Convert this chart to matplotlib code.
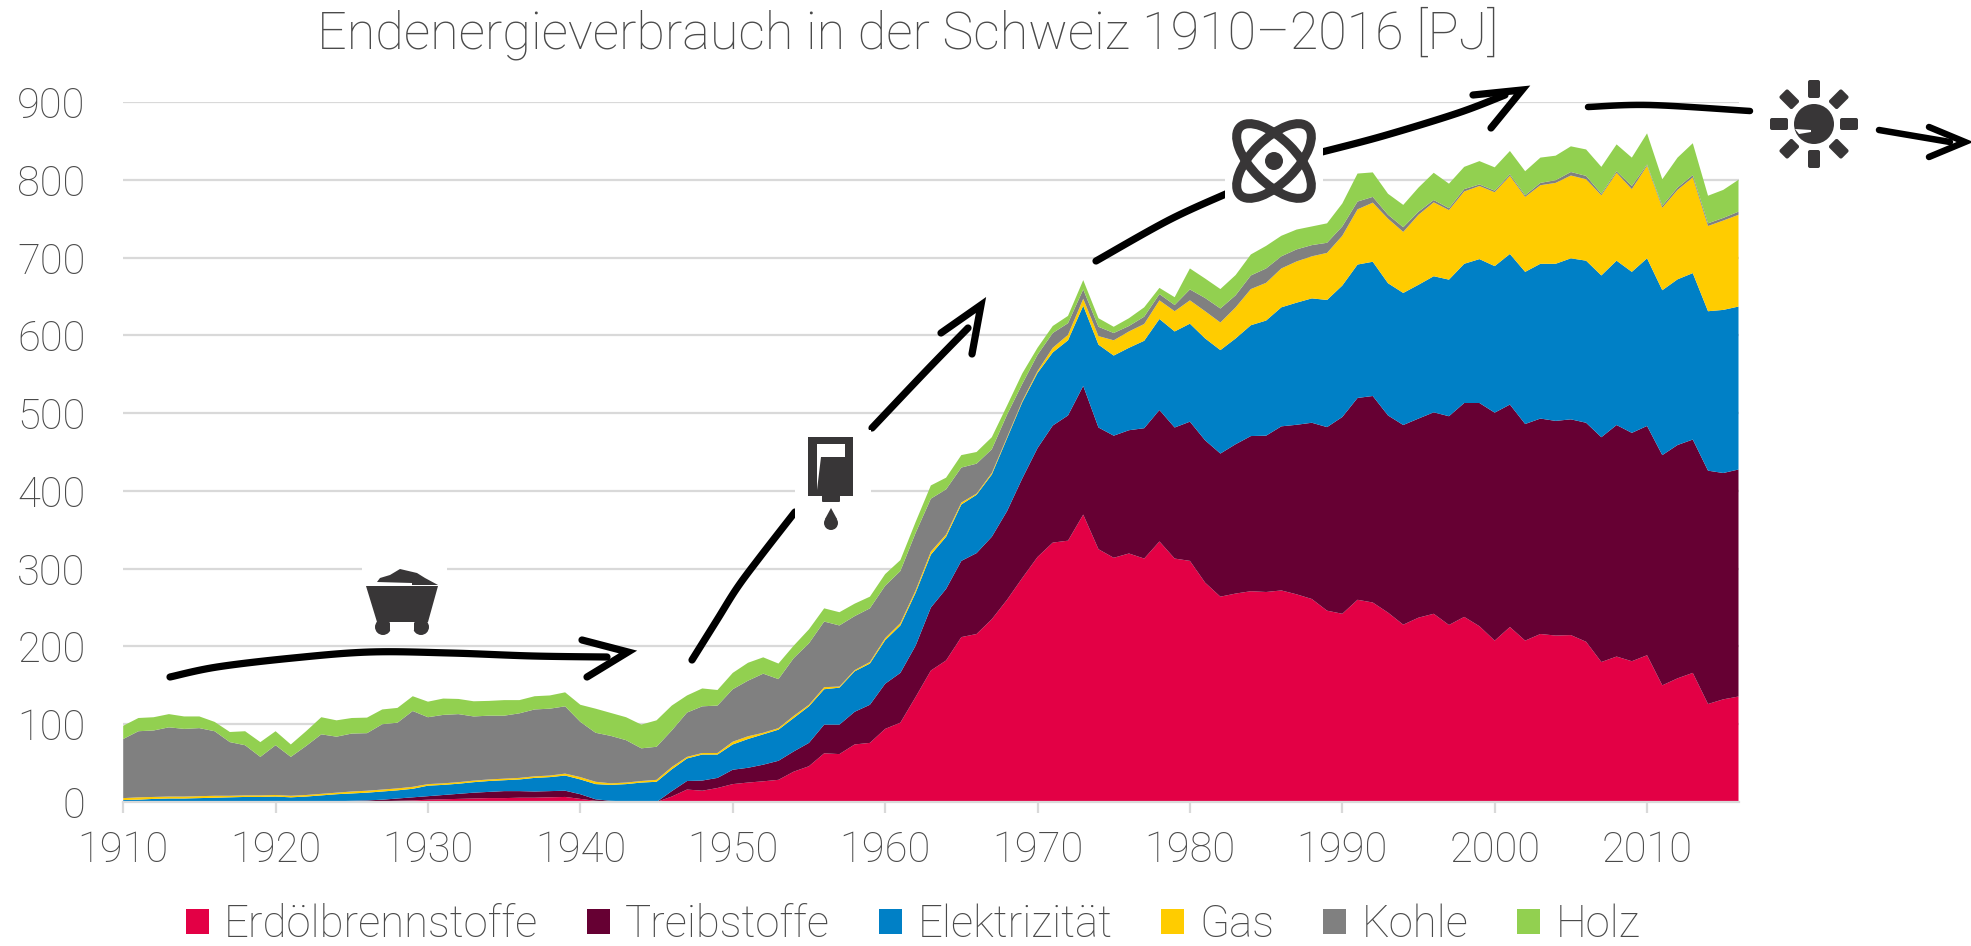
import numpy as np
import matplotlib
matplotlib.use("Agg")
import matplotlib.pyplot as plt
from matplotlib.patches import Polygon, Circle, Ellipse, Rectangle, FancyBboxPatch
from matplotlib.transforms import Affine2D
from matplotlib.patches import Patch

# ---- data: upper edge of each stacked band, PJ, 1910..2016
years = list(range(1910, 2017))
top_erdoel = [0,0,0,0,0,0,0,0,0,0,
 0,0,0,0,.3,.5,.8,1,1.5,2,
 3,3.5,4,4.5,5,5,5.5,5.5,6,6.5,
 4,1.5,.5,.2,0,0,7,16,14.5,18,
 23,25,26.6,28.5,39,46,62.6,61.6,74,76,
 94,102,135,169,182,212,216,235,260,288,
 315,333.5,336,369.5,325,314,319.5,313,335,313,
 310,282,264,268,271,270,272,267,261,246,
 242,260,256.5,243.5,228,237,242,227.6,238,226,
 207.5,225,207.5,216,214,214.6,206,180,187,181,
 188.7,150,159,166,126,132,135.6]
top_treib = [0,0,0,0,0,0,0,0,0,0,
 0,0,.3,.6,1,1.5,2,3,4.5,6,
 7.5,9,10.5,12,13,14,14,13.5,14,14.5,
 10,3.5,1.5,.8,.3,0,14,27,27.6,31,
 41.5,44,48,53,65,76,99.5,99.5,116,125,
 152,166,201,250,274,310,320,341,374,416,
 455,484,497,535,481.5,471,478,480.6,504,481.5,
 489,465,448,460,470.5,471,483,485,487.6,482,
 495,519.5,522,497,484.7,493,501,496,513,513,
 500.6,511,486,493,490,492,487.6,469,484.7,474.6,
 483.5,446,459,466,426,423,427.5]
top_elektro = [2.5,3,4,4.5,4.5,5,5.5,6,6.5,6.5,
 7,6,7,8.5,10,11,12,13.5,15,17,
 21,22,23.5,25.5,27,28,29,31,32,34,
 29,23,22,23,25,26,42,56,61,61,
 74,81,87,93,108,123,145,147,168,178,
 208,227,269,318,341,382.5,395,421,467.5,514,
 551.6,578,593.6,638,588,574,584,593,621,605,
 615,596,581,596,613,619,636,642,647.5,645.5,
 664,691,694.6,667,654.5,665,676,671.6,692,698,
 689,704.6,681.6,692,692,699,696,677,696,681.6,
 699,658,672,680,631,632.7,637]
top_gas = [5,6,6.5,7,7,7.5,8,8,8.5,8.5,
 9,8,9,10.5,12,13.5,14.5,16,17.5,19.5,
 23,24,25.5,27.5,29,30,31,33,34,36.5,
 32,26,24,25,27,28.5,45,58,63,63,
 77.5,84.5,89,95,110.7,125,147.6,148.5,169.5,180,
 210.6,230,272,322,344,385,396.5,423,469,515.6,
 554,584,600.6,647,599,593.6,605,614.6,645,631,
 645,631,616.5,636,659.5,667.5,686,695,701.6,706,
 728,762,770.6,750,733,755,771,761,785,792,
 784,805,778,793,796,805.5,800.7,780,809,788,
 818,764,787,803,740.6,747.6,755]
top_kohle = [81,91,92,96,94,95,91,77,73,58,
 73,58,72,87,84,88,88.5,100,102,117,
 109,112,113,110,111,111,114,119,120,123,
 103,89,85,79.5,69,71,92,115,123,124,
 145,156,165,158,185,204,232,227,239,249,
 278,297,346,390,402,430,435,453.5,498,537.6,
 575,603,615.6,659,611,603,612,624,653,639,
 659,648,634.5,651.5,677,686,701.6,710.5,716,719,
 740,772,778,755,739,759,774,763.5,788,794,
 786,807,780,796,799.5,810,805,782,811,792,
 819.6,766.5,790,806,744,751,759]
top_holz = [98,108,109,113,110,110,103,90,91,77,
 91,74,91,109,105,108,108.5,119,121,136,
 129,133,132.5,129.5,130,131,131,136,137,141,
 125,120,114.5,109,99.5,105,124,137,146,144,
 166,179,186,178,201,222,249,244,255,264,
 293,311,360,407,417,446,450,469,509.6,551,
 584,612,625,671,622,611,622,636,661,649,
 686,673,659.5,677.5,704,715,728,736,740,744,
 769.5,808,809.5,782,767.7,790,809,795,816.6,824,
 816,837,811,828.5,831,843,839,816.6,845.5,828.5,
 859.7,800.7,828.5,847,779.5,787,800]
labels = ["Erdölbrennstoffe", "Treibstoffe", "Elektrizität", "Gas", "Kohle", "Holz"]
colors = ["#E30045", "#660033", "#0080C6", "#FFCC00", "#808080", "#92D050"]
title = "Endenergieverbrauch in der Schweiz 1910–2016 [PJ]"
xticks = list(range(1910, 2011, 10))
yticks = list(range(0, 901, 100))

FONT = "Roboto"
WEIGHT = "light"
TXT = "#4a4a4a"
W, H = 1971, 946

plt.rcParams["font.family"] = [FONT, "DejaVu Sans"]
plt.rcParams["font.weight"] = WEIGHT
fig = plt.figure(figsize=(W/100, H/100), dpi=100, facecolor="white")
ax = fig.add_axes([123.2/W, 1-802/H, 1615.3/W, 700/H])

tops = [np.array(top_erdoel), np.array(top_treib), np.array(top_elektro),
        np.array(top_gas), np.array(top_kohle), np.array(top_holz)]
bands = [tops[0]] + [tops[i]-tops[i-1] for i in range(1, 6)]
ax.stackplot(years, bands, colors=colors, labels=labels, linewidth=0, zorder=3)

ax.set_xlim(1910, 2016)
ax.set_ylim(0, 900)
ax.set_xticks(xticks)
ax.set_yticks(yticks)
ax.grid(axis="y", color="#D9D9D9", lw=1.6, zorder=1)
for s in ("top", "right", "left"):
    ax.spines[s].set_visible(False)
ax.spines["bottom"].set_color("#D9D9D9")
ax.spines["bottom"].set_linewidth(1.6)
ax.spines["bottom"].set_zorder(5)
ax.tick_params(axis="y", length=0, pad=27, labelsize=30, labelcolor=TXT)
ax.tick_params(axis="x", length=8, width=1.6, color="#D9D9D9", pad=12, labelsize=30, labelcolor=TXT)

fig.text(908/W, 1-33/H, title, ha="center", va="center", fontsize=37.5, color=TXT)

handles = [Patch(facecolor=c, label=l) for c, l in zip(colors, labels)]
fig.legend(handles=handles, loc="center", bbox_to_anchor=(913/W, 1-925/H), ncol=6, frameon=False,
           fontsize=31.5, labelcolor=TXT, handlelength=0.52, handleheight=0.52, handletextpad=0.35,
           columnspacing=1.12, borderpad=0, borderaxespad=0)

# ---- overlay in pixel coordinates: hand-drawn arrows and icons
ov = fig.add_axes([0, 0, 1, 1], facecolor="none", zorder=10)
ov.set_xlim(0, W); ov.set_ylim(H, 0); ov.axis("off")
INK = "#383637"
LW = 5.2

def stroke(pts, lw=LW):
    p = np.array(pts, float)
    out = []
    P = np.vstack([p[0], p, p[-1]])
    for i in range(1, len(P)-2):
        for t in np.linspace(0, 1, 12, endpoint=False):
            a, b, c, d = P[i-1], P[i], P[i+1], P[i+2]
            out.append(0.5*((2*b)+(c-a)*t+(2*a-5*b+4*c-d)*t*t+(3*b-a-3*c+d)*t**3))
    out.append(p[-1])
    out = np.array(out)
    ov.plot(out[:, 0], out[:, 1], color="black", lw=lw, solid_capstyle="round", solid_joinstyle="round")

# coal arrow
stroke([(170,677),(217,667),(293,658),(370,652),(450,653),(533,656),(607,657)])
ov.plot([582,628,587],[640,652,677], color="black", lw=LW, solid_capstyle="round", solid_joinstyle="miter")
# oil arrow
stroke([(692,660),(717,620),(737,588),(760,557),(795,512)])
stroke([(872,428),(927,370),(968,328)])
ov.plot([941,981,972],[333,305,354], color="black", lw=LW, solid_capstyle="round", solid_joinstyle="miter")
# nuclear arrow
stroke([(1096,261),(1169,220),(1228,193)])
stroke([(1322,152),(1383,136),(1458,113),(1505,95)])
ov.plot([1473,1522,1491],[95,90,128], color="black", lw=LW, solid_capstyle="round", solid_joinstyle="miter")
# solar arrow
stroke([(1588,107),(1650,105),(1750,111)], lw=LW*0.9)
stroke([(1879,130),(1950,142)], lw=LW*0.9)
ov.plot([1929,1965,1929],[127,142,157], color="black", lw=LW*0.9, solid_capstyle="round", solid_joinstyle="miter")

# coal cart icon
ov.add_patch(Rectangle((362,550),85,92,fc="white",ec="none",zorder=2))
ov.add_patch(Polygon([(366,586),(438,586),(428,622),(377,622)],fc=INK,ec="none",zorder=3))
ov.add_patch(Polygon([(377,582),(380,578),(390,575),(400,569),(417,573),(425,578),(438,585),(412,585),(412,583)],fc=INK,ec="none",zorder=3))
ov.add_patch(Circle((383,627),8,fc=INK,ec="none",zorder=3))
ov.add_patch(Circle((421,627),8,fc=INK,ec="none",zorder=3))
ov.add_patch(Rectangle((390,622),24,8,fc="white",ec="none",zorder=3))
# oil icon
ov.add_patch(Rectangle((795,430),76,100,fc="white",ec="none",zorder=2))
ov.add_patch(Rectangle((808,437),45,59,fc=INK,ec="none",zorder=3))
ov.add_patch(FancyBboxPatch((823,494),16,7,boxstyle="round,pad=1",fc=INK,ec="none",zorder=3))
ov.add_patch(Polygon([(817,490),(817,444),(845,444),(845,457),(821,457)],fc="white",ec="none",zorder=4))
ov.add_patch(Circle((831,523),7,fc=INK,ec="none",zorder=3))
ov.add_patch(Polygon([(831,508),(825,519),(837,519)],fc=INK,ec="none",zorder=3))
# atom icon
cx, cy = 1274, 161
ov.add_patch(Rectangle((1225,112),98,100,fc="white",ec="none",zorder=2))
for ang in (45, -45):
    ov.add_patch(Ellipse((cx,cy),96,44,angle=ang,fc="none",ec=INK,lw=6.5,zorder=3))
ov.add_patch(Polygon([(cx,cy-19),(cx+19,cy),(cx,cy+19),(cx-19,cy)],fc="white",ec="none",zorder=4))
ov.add_patch(Circle((cx,cy),9,fc=INK,ec="none",zorder=5))
# sun icon
sx, sy = 1814, 124
ov.add_patch(Circle((sx,sy),20,fc=INK,ec="none",zorder=3))
ov.add_patch(Polygon([(sx-19,sy+5),(sx-3,sy+6),(sx-3,sy+8),(sx-15,sy+10)],fc="white",ec="none",zorder=4))
for ang in range(0, 360, 45):
    tr = Affine2D().rotate_deg(ang).translate(sx, sy) + ov.transData
    ov.add_patch(FancyBboxPatch((28,-4),14,8,boxstyle="round,pad=2",fc=INK,ec="none",zorder=3,transform=tr))

fig.savefig("out.png", dpi=100, facecolor="white")
